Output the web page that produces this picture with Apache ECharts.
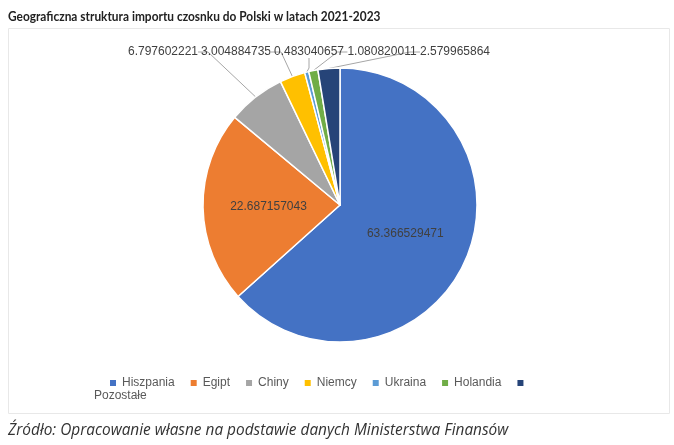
<!DOCTYPE html>
<html lang="pl">
<head>
	<meta charset="UTF-8">
	<title>Import czosnku do Polski 2021-2023</title>
	<style>
		html,body{margin:0;padding:0;background:#fff;}
		#main{width:674px;height:445px;}
	</style>
</head>
<body>
	<div id="main"></div>
	<script src="https://cdn.jsdelivr.net/npm/echarts@6/dist/echarts.min.js"></script>
	<script>
		// dane z wykresu (udzial w %)
		var kraje = ['Hiszpania', 'Egipt', 'Chiny', 'Niemcy', 'Ukraina', 'Holandia', 'Pozostałe'];
		var udzialy = [63.366529471, 22.687157043, 6.797602221, 3.004884735, 0.483040657, 1.080820011, 2.579965864];
		var kolory = ['#4472C4', '#ED7D31', '#A5A5A5', '#FFC000', '#5B9BD5', '#70AD47', '#264478'];

		// male etykiety stoja w jednym rzedzie nad kolem
		var slotX = [null, null, 163, 236, 309, 382, 455];
		var slotY = 52;

		var dane = [];
		for (var i = 0; i < kraje.length; i++) {
			var item = {name: kraje[i], value: udzialy[i], itemStyle: {color: kolory[i]}};
			if (i < 2) {
				item.label = {position: 'inside'};
				item.labelLine = {show: false};
			}
			dane.push(item);
		}

		var myChart = echarts.init(document.getElementById('main'));
		var option = {
			animation: false,
			title: [{
				text: 'Źródło: Opracowanie własne na podstawie danych Ministerstwa Finansów',
				left: 3, top: 418,
				textStyle: {fontFamily: 'Open Sans', fontStyle: 'italic', fontWeight: 'normal', fontSize: 15.4, color: '#333'}
			}],
			graphic: [{
				type: 'text',
				x: 8, y: 16,
				scaleX: 0.85,
				silent: true,
				style: {
					text: 'Geograficzna struktura importu czosnku do Polski w latach 2021-2023',
					font: 'bold 14px Lato',
					fill: '#222',
					verticalAlign: 'middle'
				}
			}, {
				type: 'rect',
				shape: {x: 8.5, y: 28.5, width: 661, height: 385},
				style: {fill: 'none', stroke: '#e8e8e8', lineWidth: 1},
				silent: true
			}, {
				type: 'text',
				left: 94, top: 390,
				style: {text: 'Pozostałe', fontFamily: 'Liberation Sans', fontSize: 12, fill: '#595959'}
			}],
			legend: {
				data: kraje,
				left: 103, top: 372,
				itemWidth: 8, itemHeight: 8, itemGap: 14,
				icon: 'rect',
				textStyle: {fontFamily: 'Liberation Sans', fontSize: 12, color: '#595959'},
				formatter: function (name) {
					return name === 'Pozostałe' ? '' : name;
				}
			},
			series: [{
				type: 'pie',
				center: [340, 205],
				radius: 137,
				startAngle: 90,
				clockwise: true,
				avoidLabelOverlap: false,
				itemStyle: {borderColor: '#fff', borderWidth: 1.5},
				label: {
					show: true,
					position: 'outside',
					formatter: '{c}',
					fontFamily: 'Liberation Sans',
					fontSize: 12,
					color: '#404040'
				},
				labelLine: {show: true, length: 10, length2: 10, lineStyle: {color: '#a6a6a6', width: 1}},
				labelLayout: function (p) {
					var x = slotX[p.dataIndex];
					if (x == null) return {};
					return {x: x, y: slotY, align: 'center', verticalAlign: 'middle'};
				},
				emphasis: {disabled: true},
				data: dane
			}]
		};
		myChart.setOption(option);
	</script>
</body>
</html>
